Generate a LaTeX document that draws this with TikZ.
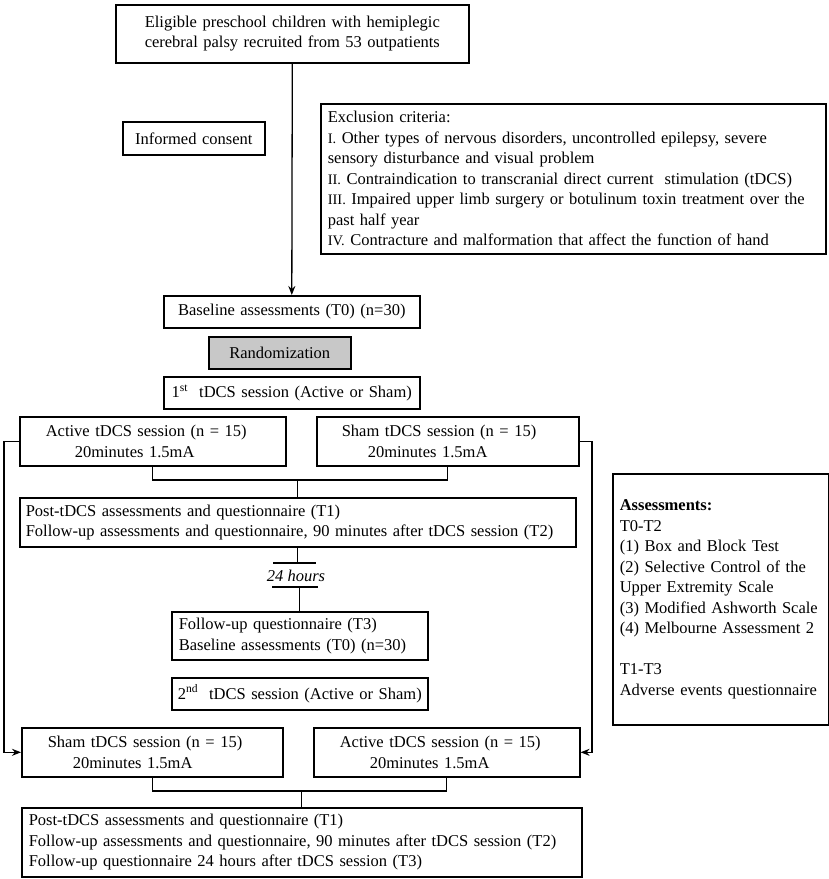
\documentclass[tikz,border=0pt]{standalone}
\usepackage{fontspec}
\setmainfont{Liberation Serif}
\usetikzlibrary{arrows.meta}
\definecolor{randgray}{RGB}{200,200,200}
\newcommand{\rnum}[1]{{\fontsize{14.5}{20.5}\selectfont #1}}
\begin{document}
\begin{tikzpicture}[x=1pt,y=-1pt,
  box/.style={draw, line width=1.6pt, inner sep=0pt, anchor=north west,
    font=\fontsize{16.5}{20.5}\selectfont},
  link/.style={line width=1.3pt},
  arr/.style={link, -{Stealth[length=9pt,width=7pt]}},
]
\useasboundingbox (0,0) rectangle (829,879);

\node[box, minimum width=353pt, minimum height=58pt, text width=353pt, align=center] (top) at (115,4)
  {Eligible preschool children with hemiplegic\\cerebral palsy recruited from 53 outpatients};

\node[box, minimum width=142pt, minimum height=33pt, text width=142pt, align=center] (consent) at (122,121)
  {Informed consent};

\node[box, minimum width=505pt, minimum height=150pt, inner xsep=7pt, text width=491pt, align=left] (excl) at (320,103)
  {Exclusion criteria:\\
   \rnum{I.} Other types of nervous disorders, uncontrolled epilepsy, severe\\
   sensory disturbance and visual problem\\
   \rnum{II.} Contraindication to transcranial direct current\ \ stimulation (tDCS)\\
   \rnum{III.} Impaired upper limb surgery or botulinum toxin treatment over the\\
   past half year\\
   \rnum{IV.} Contracture and malformation that affect the function of hand};

\node[box, minimum width=256pt, minimum height=32pt, text width=256pt, align=center] (base) at (163,295)
  {Baseline assessments (T0) (n=30)};

\node[box, fill=randgray, minimum width=142pt, minimum height=32pt, text width=142pt, align=center] (rand) at (208,336)
  {Randomization};

\node[box, minimum width=256pt, minimum height=32pt, text width=256pt, align=center] (s1) at (163,376)
  {1\textsuperscript{st}\ \ tDCS session (Active or Sham)};

\node[box, minimum width=266pt, minimum height=49pt, inner xsep=26pt, text width=214pt, align=left] (act1) at (19,416)
  {Active tDCS session (n = 15)\\\hspace*{29pt}20minutes 1.5mA};

\node[box, minimum width=262pt, minimum height=49pt, inner xsep=25pt, text width=212pt, align=left] (sham1) at (316,416)
  {Sham tDCS session (n = 15)\\\hspace*{26pt}20minutes 1.5mA};

\node[box, minimum width=556pt, minimum height=49pt, inner xsep=6pt, text width=544pt, align=left] (post1) at (19,497)
  {Post-tDCS assessments and questionnaire (T1)\\
   Follow-up assessments and questionnaire, 90 minutes after tDCS session (T2)};

\node[font=\fontsize{16.5}{20.5}\selectfont\itshape, inner sep=0pt] (h24) at (296,576) {24 hours};

\node[box, minimum width=256pt, minimum height=48pt, inner xsep=7pt, text width=242pt, align=left] (fu) at (171,611)
  {Follow-up questionnaire (T3)\\Baseline assessments (T0) (n=30)};

\node[box, minimum width=256pt, minimum height=32pt, text width=256pt, align=center] (s2) at (171,677)
  {2\textsuperscript{nd}\ \ tDCS session (Active or Sham)};

\node[box, minimum width=261pt, minimum height=49pt, inner xsep=26pt, text width=209pt, align=left] (sham2) at (21,727)
  {Sham tDCS session (n = 15)\\\hspace*{25pt}20minutes 1.5mA};

\node[box, minimum width=266pt, minimum height=49pt, inner xsep=26pt, text width=214pt, align=left] (act2) at (313,727)
  {Active tDCS session (n = 15)\\\hspace*{30pt}20minutes 1.5mA};

\node[box, minimum width=560pt, minimum height=69pt, inner xsep=7pt, text width=546pt, align=left] (final) at (21,807)
  {Post-tDCS assessments and questionnaire (T1)\\
   Follow-up assessments and questionnaire, 90 minutes after tDCS session (T2)\\
   Follow-up questionnaire 24 hours after tDCS session (T3)};

\node[box, minimum width=216pt, minimum height=251pt, inner xsep=7pt, text width=202pt, align=left] (assess) at (612,473)
  {\textbf{Assessments:}\\
   T0-T2\\
   (1) Box and Block Test\\
   (2) Selective Control of the\\
   Upper Extremity Scale\\
   (3) Modified Ashworth Scale\\
   (4) Melbourne Assessment 2\\[20.5pt]
   T1-T3\\
   Adverse events questionnaire};

% connectors
\coordinate (lx) at (4,0);
\coordinate (rx) at (592,0);
\coordinate (j1) at (0,480);
\coordinate (j2) at (0,791);
\coordinate (bar1l) at (273,563);
\coordinate (bar1r) at (316,563);
\coordinate (bar2l) at (272,587);
\coordinate (bar2r) at (318,587);

\draw[arr] (top.south) -- (base.north);
\draw[arr] (act1.west) -- (act1.west -| lx) |- (sham2.west);
\draw[arr] (sham1.east) -- (sham1.east -| rx) |- (act2.east);

\draw[link] (act1.south) -- (act1.south |- j1) -- (sham1.south |- j1) -- (sham1.south);
\draw[link] (post1.north |- j1) -- (post1.north);

\draw[link] (post1.south) -- (post1.south |- bar1l);
\draw[link] (bar1l) -- (bar1r);
\draw[link] (bar2l) -- (bar2r);
\draw[link] (fu.north |- bar2l) -- (fu.north);

\draw[link] (sham2.south) -- (sham2.south |- j2) -- (act2.south |- j2) -- (act2.south);
\draw[link] (final.north |- j2) -- (final.north);
\end{tikzpicture}
\end{document}
